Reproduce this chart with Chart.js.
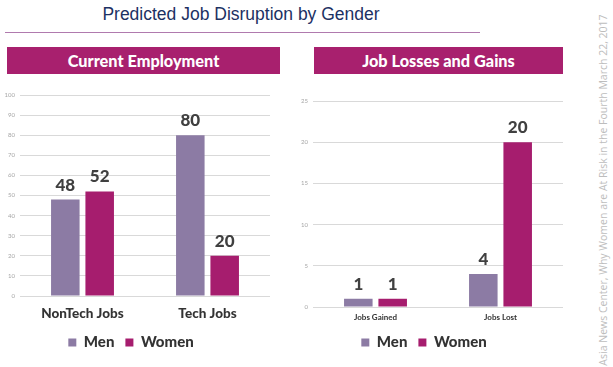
<!DOCTYPE html>
<html>
<head>
<meta charset="utf-8">
<script src="https://cdn.jsdelivr.net/npm/chart.js@4/dist/chart.umd.min.js"></script>
<style>
  body { margin: 0; background: #fff; width: 613px; height: 367px; overflow: hidden; position: relative; font-family: Lato, sans-serif; }
  .title { position: absolute; left: 0; width: 482px; top: 4px; text-align: center; font-family: "Liberation Sans", Arial, sans-serif; font-size: 17.5px; color: #1C3163; }
  .rule { position: absolute; left: 5px; top: 32px; width: 475px; height: 1px; background: #B07AAE; }
  .banner { position: absolute; top: 47px; height: 27px; background: #A8206E; color: #fff; font-weight: 900; font-size: 16.3px; line-height: 27px; text-align: center; }
  .box { position: absolute; top: 80px; width: 285px; height: 280px; }
  .source { position: absolute; left: 603px; top: 190px; transform: translate(-50%, -50%) rotate(-90deg); white-space: nowrap; font-family: "Open Sans", sans-serif; font-size: 10.5px; color: #BDBDBD; }
</style>
</head>
<body>
<div class="title">Predicted Job Disruption by Gender</div>
<div class="rule"></div>
<div class="banner" style="left:7px;width:273px">Current Employment</div>
<div class="banner" style="left:314px;width:249px">Job Losses and Gains</div>
<div class="box" style="left:0px"><canvas id="leftChart"></canvas></div>
<div class="box" style="left:293px"><canvas id="rightChart"></canvas></div>
<div class="source">Asia News Center, Why Women are At Risk in the Fourth March 22, 2017</div>

<script>
// data
const employmentCategories = ["NonTech Jobs", "Tech Jobs"];
const employmentMen = [48, 80];
const employmentWomen = [52, 20];

const changeCategories = ["Jobs Gained", "Jobs Lost"];
const changeMen = [1, 4];
const changeWomen = [1, 20];

const seriesNames = ["Men", "Women"];
const menColor = "#8C7BA4";
const womenColor = "#A61D6E";

// bar value labels
const valueLabels = {
    id: "valueLabels",
    afterDatasetsDraw(chart) {
        const ctx = chart.ctx;
        ctx.save();
        ctx.font = "900 17px Lato";
        ctx.fillStyle = "#404040";
        ctx.textAlign = "center";
        ctx.textBaseline = "bottom";
        chart.data.datasets.forEach((ds, i) => {
            chart.getDatasetMeta(i).data.forEach((bar, j) => {
                ctx.fillText(ds.data[j], bar.x, bar.y - 6);
            });
        });
        ctx.restore();
    }
};

// nudge the legend a bit to the left, like in the original slide
const legendNudge = {
    id: "legendNudge",
    afterLayout(chart) {
        chart.legend.left -= 14;
        chart.legend.right -= 14;
    }
};

function makeChart(id, labels, men, women, yMax, yStep, xFont, xPad, xHeight, top) {
    return new Chart(document.getElementById(id), {
        type: "bar",
        data: {
            labels: labels,
            datasets: [
                { label: seriesNames[0], data: men, backgroundColor: menColor },
                { label: seriesNames[1], data: women, backgroundColor: womenColor }
            ]
        },
        options: {
            responsive: true,
            maintainAspectRatio: false,
            animation: false,
            categoryPercentage: 0.55,
            barPercentage: 0.83,
            layout: { padding: { left: 0, right: 15, top: top, bottom: 0 } },
            plugins: {
                legend: {
                    position: "bottom",
                    fullSize: false,
                    labels: {
                        boxWidth: 8,
                        boxHeight: 8,
                        padding: 11,
                        color: "#333",
                        font: { family: "Lato", size: 15, weight: "900" }
                    }
                },
                tooltip: { enabled: false }
            },
            scales: {
                x: {
                    afterFit: s => { s.height = xHeight; },
                    grid: { display: false, drawTicks: false },
                    border: { display: false },
                    ticks: { color: "#333", padding: xPad, font: xFont }
                },
                y: {
                    min: 0,
                    max: yMax,
                    afterFit: s => { s.width = 20; },
                    grid: { color: "#D9D9D9", drawTicks: false },
                    border: { display: false },
                    ticks: { stepSize: yStep, padding: 5, color: "#A6A6A6", font: { family: "Lato", size: 6 } }
                }
            }
        },
        plugins: [valueLabels, legendNudge]
    });
}

makeChart("leftChart", employmentCategories, employmentMen, employmentWomen, 100, 10,
    { family: "Lato", size: 13.5, weight: "900" }, 10, 28, 15);
makeChart("rightChart", changeCategories, changeMen, changeWomen, 25, 5,
    { family: "Lato", size: 8, weight: "bold" }, 6, 17, 21);
</script>
</body>
</html>
